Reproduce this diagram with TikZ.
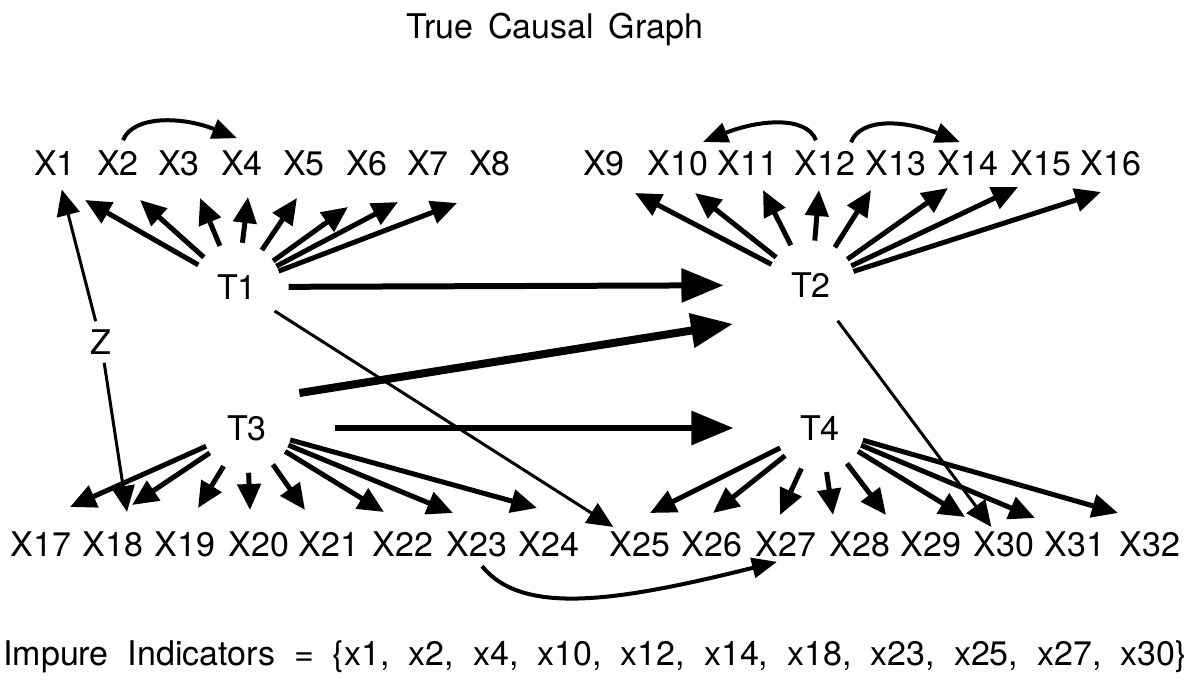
\documentclass[tikz,border=0pt]{standalone}
\usepackage{fontspec}
\setmainfont{TeX Gyre Heros}
\usepackage{tikz}
\usetikzlibrary{arrows.meta}
\usetikzlibrary{calc}
\tikzstyle{obs}=[inner sep=2pt]
\tikzstyle{latent}=[circle,inner sep=7.5pt]
\tikzstyle{loading} = [draw,line width=2.5pt,-{Triangle[length=13pt,width=11.5pt]}]
\tikzstyle{thinloading} = [draw,line width=1.5pt,-{Triangle[length=13pt,width=11.5pt]}]
\tikzstyle{bentloading} = [draw,line width=2pt,-{Triangle[length=12.5pt,width=10pt]}]
\tikzstyle{causal} = [draw,line width=3pt,-{Triangle[length=21pt,width=16.5pt]}]
\tikzstyle{heading} = [anchor=base]

\begin{document}
\begin{tikzpicture}[x=0.5pt,y=-0.5pt,font=\fontsize{17}{20}\selectfont]
    \useasboundingbox (0,0) rectangle (1193,686);

    \node[heading] (title) at (555,38) {\spaceskip=0.43em True Causal Graph};

    % indicators, top and bottom rows
    \foreach \name/\x in {X1/55, X2/118, X3/179, X4/242, X5/304, X6/367, X7/428, X8/490,
                          X9/604, X10/678, X11/748, X12/825, X13/896, X14/968, X15/1041, X16/1111}
        \node[obs] (\name) at (\x,163) {\name};
    \foreach \name/\x in {X17/41, X18/113, X19/185, X20/259, X21/329, X22/403, X23/477, X24/549,
                          X25/640, X26/712, X27/786, X28/860, X29/931, X30/1004, X31/1075, X32/1150}
        \node[obs] (\name) at (\x,544) {\name};

    % latents
    \node[latent] (T1) at (237,287) {T1};
    \node[latent] (T2) at (811,285) {T2};
    \node[latent] (T3) at (247,428) {T3};
    \node[latent] (T4) at (820,428) {T4};
    \node[obs,inner sep=4pt] (Z) at (101,342) {Z};

    % measurement arrows, each ends a little off its indicator
    \foreach \i/\dx/\dy in {1/30/37, 2/22/37, 3/21/35, 4/6/34, 5/-7/35, 6/-19/44, 7/-30/39, 8/-33/40}
        \draw[loading] (T1) -- ($(X\i)+(\dx,\dy)$);
    \foreach \i/\dx/\dy in {9/31/30, 10/17/30, 11/15/27, 12/-6/27, 13/-25/27, 14/-20/25, 15/-23/24, 16/-10/29}
        \draw[loading] (T2) -- ($(X\i)+(\dx,\dy)$);
    \foreach \i/\dx/\dy in {17/29/-37, 18/19/-39, 19/13/-36, 20/-9/-34, 21/-24/-34, 22/-19/-32, 23/-24/-31, 24/-12/-36}
        \draw[loading] (T3) -- ($(X\i)+(\dx,\dy)$);
    \foreach \i/\dx/\dy in {25/10/-31, 26/1/-31, 27/-6/-29, 28/-27/-29, 29/-45/-29, 30/-39/-27, 31/-40/-26, 32/-32/-31}
        \draw[loading] (T4) -- ($(X\i)+(\dx,\dy)$);

    % structural arrows
    \draw[causal,shorten <=3.5pt,shorten >=21.5pt] (T1) -- (T2);
    \draw[causal,line width=4pt,shorten <=10.5pt,shorten >=23.5pt] (T3.north east) -- (T2.south west);
    \draw[causal,shorten <=21.5pt,shorten >=21pt] (T3) -- (T4);

    % impurities
    \draw[thinloading] (T1) -- (X25);
    \draw[thinloading] (T2) -- (X30);
    \draw[thinloading,shorten >=5pt] (Z) -- (X1);
    \draw[thinloading] (Z) -- ($(X18.north)+(14,-15)$);
    \draw[bentloading] ($(X2.north)+(5,-6)$) .. controls +(10,-25) and +(-55,-22) .. ($(X4.north)+(-5,-8)$);
    \draw[bentloading] ($(X12.north)+(-9,-6)$) .. controls +(-10,-25) and +(55,-22) .. ($(X10.north)+(25,-4)$);
    \draw[bentloading] ($(X12.north)+(26,-4)$) .. controls +(10,-25) and +(-55,-22) .. ($(X14.north)+(-8,-4)$);
    \draw[bentloading] ($(X23.south)+(5,5)$) .. controls +(40,50) and +(-160,40) .. ($(X27.south)+(-9,1)$);

    \node[heading] (impure) at (595,665) {\spaceskip=0.56em Impure Indicators = \{x1, x2, x4, x10, x12, x14, x18, x23, x25, x27, x30\}};
\end{tikzpicture}
\end{document}
